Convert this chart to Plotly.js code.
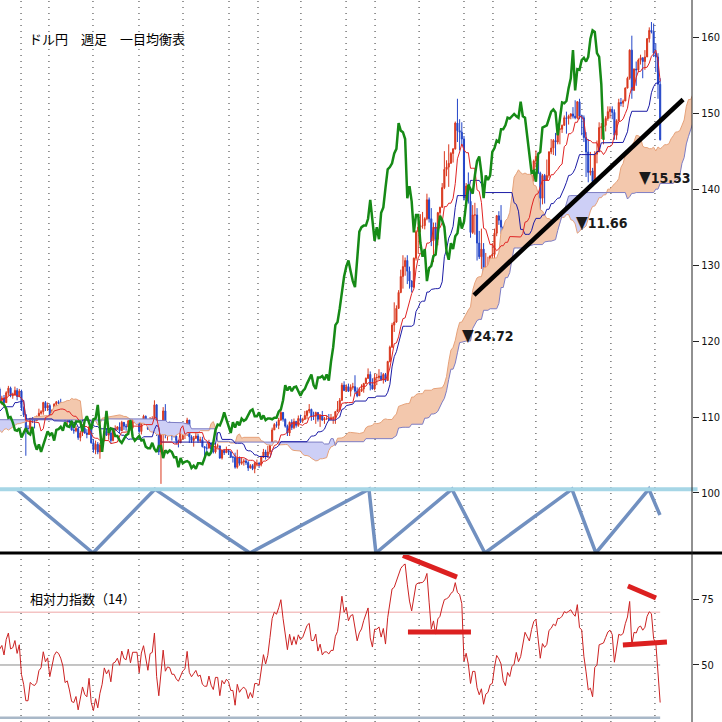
<!DOCTYPE html>
<html><head><meta charset="utf-8">
<script src="https://cdn.plot.ly/plotly-3.0.1.min.js"></script>
<style>html,body{margin:0;padding:0;background:#fff}#chart{width:722px;height:722px}</style>
</head><body><div id="chart"></div>
<script>
// Weekly USD/JPY, week ending 2017-04-14 (index 0) to 2024-08-02 (index 381)
const high = [
111.2,109.6,111.8,113.0,114.4,113.7,112.1,111.7,110.8,111.4,
111.8,112.9,114.2,114.5,112.6,111.9,111.0,110.9,110.9,109.8,
110.7,110.3,111.0,112.7,113.3,113.4,113.0,113.6,114.5,114.3,
114.7,113.9,112.7,112.9,113.6,113.8,113.6,113.4,113.3,113.4,
111.3,111.0,110.5,110.5,108.9,107.9,107.7,107.0,107.3,106.6,
107.0,107.5,107.8,107.7,109.5,110.0,110.0,111.0,111.4,109.7,
110.3,110.9,110.8,110.9,111.1,112.8,113.2,111.6,112.2,111.5,
111.1,111.5,111.8,111.6,112.2,112.9,113.8,114.6,113.9,112.8,
112.9,113.4,114.1,114.0,113.2,114.0,113.8,113.7,113.6,111.4,
110.4,108.9,109.9,110.0,109.7,110.2,111.1,110.9,112.0,112.1,
111.9,111.7,111.0,111.8,112.1,112.2,112.4,111.7,111.1,110.3,
110.7,110.0,108.6,108.8,108.6,108.2,108.7,108.9,108.4,108.8,
109.3,107.1,106.9,106.7,106.6,107.2,108.3,108.5,108.0,108.5,
108.6,108.9,108.8,109.3,109.5,109.2,109.1,109.6,109.7,109.7,
109.7,109.7,109.6,109.6,110.3,110.2,109.3,110.0,110.1,112.2,
111.7,108.5,108.6,111.3,111.7,108.7,109.4,108.1,108.1,107.6,
107.0,107.8,107.9,108.1,109.9,109.6,107.6,107.5,108.2,107.8,
107.4,107.4,106.1,106.5,107.0,106.6,107.0,106.5,106.5,106.0,
105.7,105.8,106.1,105.8,105.5,104.9,105.3,105.7,104.8,104.7,
104.5,104.5,104.2,103.8,103.8,104.1,104.4,104.1,104.9,105.8,
105.7,106.2,106.7,108.6,109.2,109.4,109.9,110.9,110.5,109.8,
109.0,109.4,109.7,109.8,109.5,110.2,110.3,109.9,110.8,110.9,
111.7,111.1,110.7,110.7,110.6,110.4,110.8,110.0,110.2,110.4,
110.4,110.1,110.8,112.1,112.5,114.5,114.7,114.3,114.4,114.3,
114.5,115.5,113.9,113.9,114.3,114.5,115.2,116.4,116.0,115.1,
115.7,115.7,116.3,115.9,115.8,115.8,117.4,119.4,122.4,125.1,
124.7,126.7,129.4,131.3,131.0,131.3,129.8,128.0,131.0,134.6,
135.6,136.7,137.0,136.3,139.4,138.9,137.5,135.6,135.6,137.0,
137.7,140.8,145.0,143.8,145.9,144.9,145.4,148.9,151.9,149.2,
148.8,147.0,140.8,142.2,139.9,137.9,138.2,137.5,134.5,134.8,
132.9,131.6,131.1,131.3,132.9,134.8,136.6,137.1,137.9,135.1,
133.0,133.6,133.8,134.0,135.1,136.6,137.8,135.8,138.7,140.9,
140.9,140.4,141.9,143.9,145.1,144.9,142.3,142.0,142.0,143.9,
145.0,146.6,146.6,147.4,148.0,148.1,148.5,149.7,150.2,149.8,
150.0,150.8,151.7,151.6,151.9,149.8,149.7,147.5,146.6,144.9,
142.8,145.0,146.4,148.8,148.7,148.6,149.6,150.9,150.9,150.9,
150.5,149.2,151.9,152.0,151.8,153.4,154.8,158.4,160.2,155.9,
156.8,157.2,157.7,157.3,158.3,159.9,161.3,162.0,161.8,159.2,
157.9,154.6
];
const low = [
108.7,108.1,109.0,111.0,112.8,110.2,110.8,110.4,109.1,108.8,
110.9,111.4,112.4,112.4,110.9,110.6,109.9,108.7,108.6,108.6,
107.3,107.3,107.8,110.8,111.5,112.3,111.7,111.7,113.2,113.3,
113.1,112.0,111.1,110.8,112.0,112.0,112.5,112.6,112.1,110.9,
110.2,108.3,108.3,107.8,105.6,106.0,105.2,105.3,105.6,104.6,
104.6,105.7,106.6,106.9,107.4,108.7,108.6,109.3,108.9,108.1,
109.2,109.2,109.4,109.4,110.3,110.3,111.3,110.6,110.9,110.3,
110.1,109.8,110.6,110.4,110.8,111.6,112.4,113.5,111.8,111.6,
111.4,112.0,112.8,112.6,112.4,112.8,112.2,112.6,110.8,110.0,
104.9,107.8,108.0,109.2,108.5,109.5,109.7,110.3,110.3,110.8,
110.8,109.8,109.7,110.9,110.8,111.7,111.4,111.0,109.5,109.0,
109.2,108.2,107.8,108.0,107.0,106.8,107.5,107.8,107.2,107.8,
106.5,105.3,105.1,105.1,104.5,105.7,106.8,107.5,107.0,106.5,
106.8,108.1,108.3,107.9,108.3,108.3,108.2,108.6,108.4,108.4,
109.2,109.3,107.9,107.7,109.4,109.1,108.3,108.3,109.5,109.7,
107.5,105.0,101.2,105.2,107.2,106.9,108.1,106.9,107.3,106.4,
106.0,106.6,107.1,107.1,107.5,106.6,106.6,106.1,107.1,106.6,
106.6,106.0,104.2,105.3,105.9,105.1,105.2,105.2,105.9,104.5,
104.4,105.0,105.3,105.0,104.6,104.0,103.2,103.2,103.6,103.7,
103.6,103.7,102.9,103.2,103.0,102.6,103.5,103.3,103.5,104.6,
104.4,104.6,105.1,106.5,108.3,108.6,108.4,109.5,109.4,108.6,
107.5,107.5,108.3,108.4,108.6,108.7,109.2,109.2,109.6,109.7,
110.5,109.5,109.6,109.1,109.4,108.7,109.5,109.1,109.6,109.6,
109.6,109.1,109.1,110.8,110.8,112.1,113.4,113.3,113.3,112.7,
113.6,113.1,112.6,113.0,113.3,113.2,114.4,115.0,113.5,113.6,
113.5,114.2,114.9,114.8,114.4,114.6,114.8,117.2,119.1,121.2,
122.4,124.3,126.3,126.9,128.6,127.5,126.9,126.4,127.0,130.6,
131.5,134.3,134.8,134.7,135.9,135.6,132.5,130.4,131.7,132.6,
136.1,137.9,140.0,141.7,140.3,143.5,143.5,145.2,146.2,145.1,
145.7,138.5,137.7,138.1,133.6,134.1,134.0,130.6,130.8,129.5,
127.5,127.2,128.9,128.1,130.5,130.7,133.8,135.3,134.1,131.6,
129.6,130.4,130.6,131.6,133.4,133.5,133.5,133.7,135.6,137.7,
138.4,138.8,138.8,141.0,142.9,142.0,137.2,138.0,138.1,141.5,
141.5,144.6,144.5,144.4,145.9,145.9,147.4,148.5,147.3,148.5,
149.2,149.3,149.2,149.2,149.2,147.1,146.2,141.6,140.9,141.8,
140.3,140.8,143.4,145.0,146.6,145.9,147.6,149.0,149.3,149.2,
146.5,146.5,149.2,150.9,150.8,151.7,153.6,154.4,151.9,153.0,
153.6,155.4,156.4,154.6,155.7,157.4,159.3,160.5,157.4,155.4,
151.9,146.4
];
const close = [
109.1,109.0,111.5,112.7,113.3,111.3,111.3,110.4,110.3,110.9,
111.3,112.4,113.9,112.5,111.1,110.7,110.7,109.2,109.2,109.3,
110.2,107.8,110.8,112.0,112.5,112.6,111.8,113.5,113.7,114.1,
113.5,112.1,111.5,112.2,113.5,112.6,113.3,112.7,113.0,111.0,
110.8,108.6,110.2,108.8,106.3,106.9,105.7,106.8,106.0,104.7,
106.3,106.9,107.4,107.6,109.0,109.1,109.4,110.8,109.4,109.5,
109.5,110.7,110.0,110.7,110.5,112.4,111.4,111.0,111.3,110.9,
110.5,111.2,111.0,111.0,112.1,112.6,113.7,113.7,112.2,112.5,
111.9,113.2,113.8,112.8,112.9,113.5,112.7,113.4,111.2,110.3,
108.5,108.5,109.8,109.6,109.5,109.7,110.5,110.7,111.9,111.2,
111.5,110.1,110.9,111.7,112.0,111.9,111.6,111.1,109.9,110.0,
109.3,108.3,108.2,108.5,107.3,107.9,108.5,107.9,107.7,108.7,
106.6,105.7,106.4,105.4,106.3,106.9,108.1,107.6,107.9,106.9,
108.3,108.4,108.7,108.2,109.3,108.8,108.7,109.5,108.6,109.4,
109.4,109.4,108.1,109.5,110.1,109.3,108.4,109.7,109.8,111.6,
107.9,105.4,108.0,110.8,107.9,108.5,108.4,107.5,107.5,106.9,
106.6,107.1,107.6,107.8,109.6,107.4,106.9,107.2,107.5,106.9,
107.0,106.1,105.9,105.9,106.6,105.8,105.4,106.2,106.2,104.6,
105.6,105.3,105.6,105.4,104.7,104.7,103.4,104.6,103.9,104.1,
104.2,104.0,103.3,103.6,103.2,103.9,103.9,103.8,104.7,105.4,
104.9,105.4,106.6,108.3,109.0,108.9,109.6,110.6,109.7,108.8,
107.9,109.3,108.6,109.4,108.9,109.8,109.5,109.7,110.2,110.8,
111.0,110.1,110.1,110.6,109.7,110.2,109.6,109.8,109.8,109.7,
109.9,109.9,110.7,111.0,112.2,114.2,113.5,114.0,113.4,113.9,
114.0,113.4,112.8,113.4,113.7,114.4,115.1,115.6,114.2,113.7,
115.2,115.2,115.4,114.9,115.6,114.8,117.3,119.2,122.1,122.5,
124.3,126.4,128.5,129.8,130.6,129.2,127.9,127.1,130.9,134.4,
135.0,135.2,135.2,136.1,138.6,136.1,133.2,135.0,133.4,136.9,
137.6,140.2,142.6,142.9,143.4,144.7,145.3,148.7,147.7,147.5,
146.6,138.8,140.4,138.4,134.3,136.6,136.6,132.9,131.1,132.1,
127.9,129.6,129.9,131.2,131.4,134.2,136.5,135.9,135.0,131.8,
130.7,132.9,132.1,133.8,134.2,136.3,134.8,135.7,137.9,140.6,
140.0,139.4,141.8,143.7,144.3,142.1,138.8,141.8,141.2,141.8,
144.9,145.4,146.4,146.2,147.9,147.9,148.4,149.4,149.3,149.6,
149.9,149.6,149.4,151.5,149.6,149.4,146.8,144.9,142.2,142.4,
141.0,144.6,144.9,148.1,148.2,148.4,149.3,150.2,150.5,150.1,
147.1,149.0,151.4,151.3,151.6,153.3,154.6,158.3,153.0,155.8,
155.7,157.0,157.3,156.8,157.4,159.8,160.9,160.7,157.9,157.4,
153.8,146.5
];

// Ichimoku / RSI periods
const tenkanLen = 9, kijunLen = 26, senkouBLen = 52, shiftLen = 26, rsiLen = 14;

// Axis ticks
const mainTicks = [100, 110, 120, 130, 140, 150, 160];
const rsiTicks = [50, 75];
const rsiLevels = [70, 50, 30];

// Vertical dotted guide positions (week index)
const gridWeeks = [87.8, 100.6, 120.8, 141.9, 162.1, 183.2, 196.5, 216.2, 236.9, 250.2, 270.4, 291.0, 304.3, 324.0, 345.1, 358.4, 378.6];

// Hand-drawn time-cycle zigzag (week index, price level)
const cycleWeeks = [85.9, 120.8, 149.2, 192.8, 247.4, 250.6, 285.5, 300.6, 340.5, 351.5, 375.8, 380.9];
const cycleLevels = [100.5, 92.1, 100.5, 92.1, 100.5, 92.1, 100.5, 92.1, 100.5, 92.1, 100.5, 97.1];

// Hand-drawn support trendline
const trendWeeks = [295.6, 391.5];
const trendLevels = [126.05, 151.8];

// Cloud-thickness labels
const cloudLabels = ['24.72', '11.66', '15.53'];
const cloudLabelWeeks = [289.2, 341.5, 370.4];
const cloudLabelLevels = [120.8, 135.7, 141.6];

// RSI divergence marks (pairs of points)
const rsiMarkWeeks = [[263.0, 287.8], [265.3, 294.2], [366.2, 379.1], [363.9, 384.1]];
const rsiMarkLevels = [[91.5, 83.3], [62.5, 62.5], [79.9, 75.4], [57.6, 58.7]];

const N = close.length;
const idx = close.map((_, i) => i);
const open = close.map((c, i) => i === 0 ? c : close[i - 1]);

function midline(len) {
  return close.map((_, i) => {
    if (i < len - 1) return null;
    let h = -Infinity, l = Infinity;
    for (let k = i - len + 1; k <= i; k++) { h = Math.max(h, high[k]); l = Math.min(l, low[k]); }
    return (h + l) / 2;
  });
}
const tenkan = midline(tenkanLen);
const kijun = midline(kijunLen);
const senkouBraw = midline(senkouBLen);

const cx = [], sa = [], sb = [];
for (let i = 0; i < N; i++) {
  if (tenkan[i] == null || kijun[i] == null || senkouBraw[i] == null) continue;
  cx.push(i + shiftLen);
  sa.push((tenkan[i] + kijun[i]) / 2);
  sb.push(senkouBraw[i]);
}
const lo = sa.map((a, i) => Math.min(a, sb[i]));
const upBull = sa.map((a, i) => a >= sb[i] ? a : lo[i]);
const upBear = sa.map((a, i) => sb[i] > a ? sb[i] : lo[i]);

// Wilder RSI
const rsi = new Array(N).fill(null);
let ag = 0, al = 0;
for (let i = 1; i <= rsiLen; i++) { const d = close[i] - close[i - 1]; if (d > 0) ag += d; else al -= d; }
ag /= rsiLen; al /= rsiLen;
rsi[rsiLen] = 100 - 100 / (1 + ag / al);
for (let i = rsiLen + 1; i < N; i++) {
  const d = close[i] - close[i - 1];
  ag = (ag * (rsiLen - 1) + Math.max(d, 0)) / rsiLen;
  al = (al * (rsiLen - 1) + Math.max(-d, 0)) / rsiLen;
  rsi[i] = al === 0 ? 100 : 100 - 100 / (1 + ag / al);
}

const none = {width: 0};
const traces = [
  {x: cx, y: lo, mode: 'lines', line: none, hoverinfo: 'skip', showlegend: false},
  {x: cx, y: upBull, mode: 'lines', line: none, fill: 'tonexty', fillcolor: '#f3c8ad', hoverinfo: 'skip', showlegend: false},
  {x: cx, y: lo, mode: 'lines', line: none, hoverinfo: 'skip', showlegend: false},
  {x: cx, y: upBear, mode: 'lines', line: none, fill: 'tonexty', fillcolor: '#cdcff6', hoverinfo: 'skip', showlegend: false},
  {x: cx, y: sa, mode: 'lines', line: {color: '#e6a27a', width: 1}, hoverinfo: 'skip', showlegend: false},
  {x: cx, y: sb, mode: 'lines', line: {color: '#7d7dc4', width: 1}, hoverinfo: 'skip', showlegend: false},
  {type: 'candlestick', x: idx, open: open, high: high, low: low, close: close,
   increasing: {line: {color: '#d9381e', width: 1}, fillcolor: '#d9381e'},
   decreasing: {line: {color: '#2446c8', width: 1}, fillcolor: '#2446c8'},
   whiskerwidth: 0, hoverinfo: 'skip', showlegend: false},
  {x: idx, y: kijun, mode: 'lines', line: {color: '#1c1ca6', width: 1}, hoverinfo: 'skip', showlegend: false},
  {x: idx, y: tenkan, mode: 'lines', line: {color: '#e02424', width: 1}, hoverinfo: 'skip', showlegend: false},
  {x: idx.map(i => i - shiftLen), y: close, mode: 'lines', line: {color: '#168a16', width: 2.5}, hoverinfo: 'skip', showlegend: false},
  {x: cycleWeeks, y: cycleLevels, mode: 'lines', line: {color: '#7190c0', width: 3.5}, hoverinfo: 'skip', showlegend: false, cliponaxis: false},
  {x: trendWeeks, y: trendLevels, mode: 'lines', line: {color: '#000', width: 4.5}, hoverinfo: 'skip', showlegend: false},
  {x: idx, y: rsi, xaxis: 'x', yaxis: 'y2', mode: 'lines', line: {color: '#cc2222', width: 1}, hoverinfo: 'skip', showlegend: false}
];
rsiMarkWeeks.forEach((w, k) => {
  traces.push({x: w, y: rsiMarkLevels[k], xaxis: 'x', yaxis: 'y2', mode: 'lines', line: {color: '#dc2020', width: 5}, hoverinfo: 'skip', showlegend: false});
});

const lastIdx = N - 1;
const shapes = [];
gridWeeks.forEach(g => shapes.push({type: 'line', xref: 'x', yref: 'paper', x0: g, x1: g, y0: 0, y1: 1, layer: 'below', line: {color: '#333', width: 1, dash: '1px,5px'}}));
const rsiColors = ['#f4c3c3', '#8a8a8a', '#a9b8c8'];
const rsiWidths = [1.5, 1, 2.5];
rsiLevels.forEach((lv, k) => shapes.push({type: 'line', xref: 'x', yref: 'y2', x0: 78.15, x1: lastIdx, y0: lv, y1: lv, layer: 'below', line: {color: rsiColors[k], width: rsiWidths[k]}}));
shapes.push({type: 'line', xref: 'paper', yref: 'y', x0: 0, x1: 1.008, y0: 100.5, y1: 100.5, line: {color: '#a6d6e6', width: 4}});
shapes.push({type: 'line', xref: 'paper', yref: 'paper', x0: 0, x1: 1.045, y0: 0.2341, y1: 0.2341, line: {color: '#000', width: 3}});
shapes.push({type: 'line', xref: 'paper', yref: 'paper', x0: 1, x1: 1, y0: 0, y1: 1, line: {color: '#222', width: 1}});

const annotations = [
  {xref: 'paper', yref: 'paper', x: 0.039, y: 0.946, xanchor: 'left', yanchor: 'middle', showarrow: false,
   text: 'ドル円　週足　一目均衡表', font: {family: 'Noto Sans CJK JP', size: 13, color: '#000'}},
  {xref: 'paper', yref: 'paper', x: 0.0405, y: 0.1717, xanchor: 'left', yanchor: 'middle', showarrow: false,
   text: '相対力指数（14）', font: {family: 'Noto Sans CJK JP', size: 13, color: '#000'}}
];
cloudLabels.forEach((t, k) => annotations.push({xref: 'x', yref: 'y', x: cloudLabelWeeks[k], y: cloudLabelLevels[k], xanchor: 'left', yanchor: 'middle', showarrow: false,
  text: '<span style="font-size:17px">▼</span><b>' + t + '</b>', font: {family: 'DejaVu Sans Condensed, Liberation Sans Narrow, Liberation Sans', size: 14, color: '#1a1a1a'}}));

const tickFont = {family: 'Liberation Sans Narrow, DejaVu Sans Condensed, Liberation Sans', size: 11, color: '#111'};
const layout = {
  width: 722, height: 722,
  margin: {l: 0, r: 30, t: 0, b: 0, pad: 0},
  paper_bgcolor: '#fff', plot_bgcolor: '#fff',
  showlegend: false,
  xaxis: {range: [78.15, 395.6], showticklabels: false, showgrid: false, zeroline: false, showline: false, ticks: '', rangeslider: {visible: false}, fixedrange: true},
  yaxis: {domain: [0.2341, 1], range: [92.1, 164.9], side: 'right', tickvals: mainTicks, ticks: 'outside', ticklen: 6, tickcolor: '#222', tickfont: tickFont, showgrid: false, zeroline: false, showline: false, fixedrange: true},
  yaxis2: {domain: [0, 0.2313], range: [28.4, 91.67], side: 'right', anchor: 'x', tickvals: rsiTicks, ticks: 'outside', ticklen: 6, tickcolor: '#222', tickfont: tickFont, showgrid: false, zeroline: false, showline: false, fixedrange: true},
  shapes: shapes,
  annotations: annotations
};
Plotly.newPlot('chart', traces, layout, {staticPlot: true, displayModeBar: false});
</script>
</body></html>
